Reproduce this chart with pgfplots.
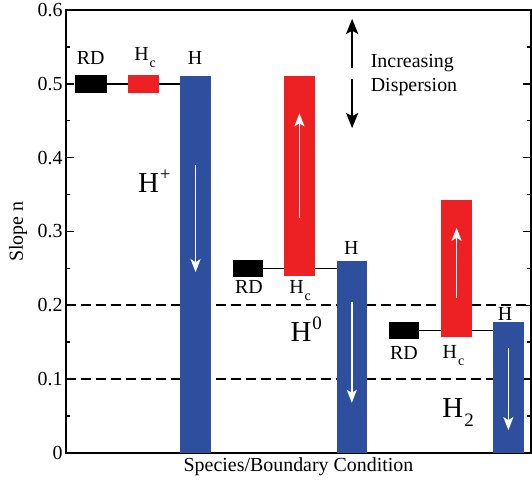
\documentclass[border=0pt]{standalone}
\usepackage{fontspec}
\setmainfont{Liberation Serif}
\usepackage{pgfplots}
\pgfplotsset{compat=1.18}
\usetikzlibrary{arrows.meta}
\definecolor{hred}{RGB}{237,32,36}
\definecolor{hblue}{RGB}{46,79,158}
\newcommand{\fs}{\fontsize{20}{24}\selectfont}
\newcommand{\fb}{\fontsize{29}{33}\selectfont}
% low subscript / high superscript as in the original figure
\newcommand{\lsub}[2]{\kern1bp\raisebox{#1}{\fontsize{14}{14}\selectfont #2}}
\newcommand{\hsup}[2]{\kern1bp\raisebox{#1}{\fontsize{19}{19}\selectfont #2}}

\begin{document}
\begin{tikzpicture}
\begin{axis}[scale only axis, width=465bp, height=443bp,
  xmin=0, xmax=15, ymin=0, ymax=0.6,
  xtick=\empty, ytick={0,0.1,0.2,0.3,0.4,0.5,0.6}, minor y tick num=1,
  yticklabel style={/pgf/number format/fixed,/pgf/number format/precision=1},
  /pgf/number format/assume math mode=true,
  tick align=inside, major tick length=8bp, minor tick length=4bp,
  axis line style={line width=1.8bp}, every tick/.style={black,line width=1.5bp},
  tick label style={font=\fs},
  xlabel={Species/Boundary Condition}, ylabel={Slope n},
  xlabel style={font=\fs, at={(axis description cs:0.5,-0.03)}, anchor=center},
  ylabel style={font=\fs, at={(axis description cs:-0.103,0.5)}, anchor=center, rotate=0},
  clip=false]

% reference levels
\addplot[black, line width=2bp, dash pattern=on 10bp off 5bp] coordinates {(0,0.2)(15,0.2)};
\addplot[black, line width=2bp, dash pattern=on 10bp off 5bp] coordinates {(0,0.1)(15,0.1)};

% connectors between RD, Hc and H
\addplot[black, line width=1.5bp] coordinates {(1.32,0.5)(3.68,0.5)};
\addplot[black, line width=1.5bp] coordinates {(6.35,0.25)(8.74,0.25)};
\addplot[black, line width=1.5bp] coordinates {(11.39,0.166)(13.77,0.166)};

% H+ group
\addplot[fill=black, draw=none] coordinates {(0.29,0.488)(1.32,0.488)(1.32,0.512)(0.29,0.512)} -- cycle;
\addplot[fill=hred, draw=none] coordinates {(2.0,0.488)(3.0,0.488)(3.0,0.512)(2.0,0.512)} -- cycle;
\addplot[fill=hblue, draw=none] coordinates {(3.68,0)(4.68,0)(4.68,0.51)(3.68,0.51)} -- cycle;

% H0 group
\addplot[fill=black, draw=none] coordinates {(5.39,0.238)(6.35,0.238)(6.35,0.262)(5.39,0.262)} -- cycle;
\addplot[fill=hred, draw=none] coordinates {(7.03,0.24)(8.03,0.24)(8.03,0.51)(7.03,0.51)} -- cycle;
\addplot[fill=hblue, draw=none] coordinates {(8.74,0)(9.71,0)(9.71,0.26)(8.74,0.26)} -- cycle;

% H2 group
\addplot[fill=black, draw=none] coordinates {(10.42,0.155)(11.39,0.155)(11.39,0.178)(10.42,0.178)} -- cycle;
\addplot[fill=hred, draw=none] coordinates {(12.1,0.157)(13.1,0.157)(13.1,0.343)(12.1,0.343)} -- cycle;
\addplot[fill=hblue, draw=none] coordinates {(13.77,0)(14.77,0)(14.77,0.177)(13.77,0.177)} -- cycle;

% trend arrows
\pgfplotsset{warr/.style={white, line width=1.5bp, -{Stealth[length=13bp,width=10bp,inset=3bp]}}}
\addplot[warr] coordinates {(4.18,0.39)(4.18,0.245)};
\addplot[warr] coordinates {(7.53,0.318)(7.53,0.46)};
\addplot[warr] coordinates {(9.22,0.205)(9.22,0.068)};
\addplot[warr] coordinates {(12.6,0.21)(12.6,0.305)};
\addplot[warr] coordinates {(14.27,0.142)(14.27,0.031)};
\pgfplotsset{barr/.style={black, line width=2bp, -{Stealth[length=15bp,width=12bp,inset=3bp]}}}
\addplot[barr] coordinates {(9.23,0.522)(9.23,0.588)};
\addplot[barr] coordinates {(9.23,0.507)(9.23,0.44)};

% labels
\node[font=\fs] at (axis cs:0.8,0.535) {RD};
\node[font=\fs] at (axis cs:2.55,0.535) {H\lsub{-7bp}{c}};
\node[font=\fs] at (axis cs:4.16,0.535) {H};
\node[font=\fb] at (axis cs:2.85,0.368) {H\hsup{12bp}{+}};
\node[font=\fs] at (axis cs:5.9,0.225) {RD};
\node[font=\fs] at (axis cs:7.55,0.22) {H\lsub{-7bp}{c}};
\node[font=\fs] at (axis cs:9.2,0.278) {H};
\node[font=\fb] at (axis cs:7.75,0.168) {H\hsup{12bp}{0}};
\node[font=\fs] at (axis cs:10.9,0.136) {RD};
\node[font=\fs] at (axis cs:12.5,0.132) {H\lsub{-7bp}{c}};
\node[font=\fs] at (axis cs:14.16,0.188) {H};
\node[font=\fb] at (axis cs:12.65,0.055) {H\hsup{-9bp}{2}};
\node[font=\fs, anchor=west, align=left] at (axis cs:9.72,0.512) {Increasing\\Dispersion};
\end{axis}
\pgfresetboundingbox
\path ([shift={(-66bp,-30bp)}]current axis.south west) rectangle ([shift={(1bp,10bp)}]current axis.north east);
\end{tikzpicture}
\end{document}
